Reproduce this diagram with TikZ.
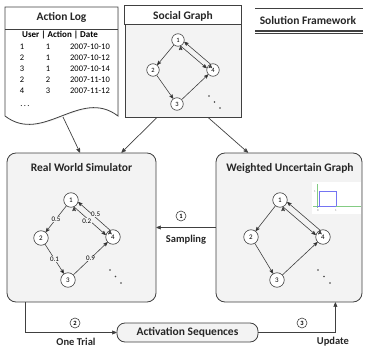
\documentclass[tikz,border=0pt]{standalone}
\usepackage{fontspec}
\setmainfont{Carlito}
\usepackage{array}
\usetikzlibrary{
  automata,
  arrows,
  shadows
}
\definecolor{linegray}{HTML}{404040}
\definecolor{panelgray}{HTML}{F3F3F3}
\definecolor{plotblue}{HTML}{7474F2}
\definecolor{plotgreen}{HTML}{84CC84}
\tikzset{
  x=1pt, y=-1pt,
  >=stealth',
  every state/.style={draw=linegray, line width=0.6pt, fill=white, minimum size=14.5pt, inner sep=0pt, font=\fontsize{7}{7}\selectfont},
  smallstate/.style={minimum size=12.5pt, font=\fontsize{6.5}{6.5}\selectfont},
  link/.style={->, draw=linegray, line width=0.6pt},
  flow/.style={->, draw=linegray, line width=0.7pt},
  softshadow/.style={drop shadow={shadow xshift=1pt, shadow yshift=-1pt, opacity=0.12}},
  panel/.style={draw=linegray, line width=0.8pt, fill=panelgray, rounded corners=9pt, minimum height=149pt},
  heading/.style={font=\fontsize{11.5}{12}\selectfont\bfseries, text=black!85, inner sep=0pt},
  caption/.style={font=\fontsize{10.5}{11}\selectfont\bfseries, text=black!85, inner sep=0pt},
  weight/.style={font=\fontsize{7}{7}\selectfont, fill=panelgray, inner sep=0.6pt},
  stepno/.style={circle, draw=linegray, line width=0.6pt, fill=white, minimum size=10pt, inner sep=0pt, font=\fontsize{6.5}{6.5}\selectfont\bfseries},
  ticklabel/.style={font=\fontsize{3}{3}\selectfont, text=black!50, inner sep=0pt}
}

\begin{document}
\begin{tikzpicture}
  \useasboundingbox (0,0) rectangle (365,348);

  % action log
  \draw[linegray, line width=0.8pt, fill=white, softshadow] (5,7) -- (118,7) -- (118,116)
    .. controls (80,87) and (43,145) .. (5,116) -- cycle;
  \draw[linegray, line width=0.8pt] (5,29) -- (118,29);
  \node[heading] (logtitle) at (61.5,17) {Action Log};
  \node[font=\fontsize{9}{9}\selectfont\bfseries, inner sep=0pt] (loghead) at (60,35) {User | Action | Date};
  \node[font=\fontsize{8.5}{11}\selectfont, inner sep=0pt] (logrows) at (64,69.5) {%
    \setlength{\tabcolsep}{0pt}%
    \begin{tabular}{w{c}{26pt}w{c}{26pt}w{c}{58pt}}
      1 & 1 & 2007-10-10\\
      2 & 1 & 2007-10-12\\
      3 & 1 & 2007-10-14\\
      2 & 2 & 2007-11-10\\
      4 & 3 & 2007-11-12
    \end{tabular}};
  \node[font=\fontsize{8.5}{9}\selectfont, inner sep=0pt] (logmore) at (25,106) {.\,.\,.};
  \coordinate (logfoot) at (63,117);

  % social graph
  \node[draw=linegray, line width=0.8pt, fill=panelgray, minimum width=116pt, minimum height=111pt, softshadow] (social) at (183,61.5) {};
  \draw[linegray, line width=0.8pt, fill=white] (social.north west) rectangle ([yshift=-19pt]social.north east);
  \node[heading] (socialtitle) at (183,16) {Social Graph};
  \node[state, smallstate] (g1) at (178,40) {1};
  \node[state, smallstate] (g2) at (153,70) {2};
  \node[state, smallstate] (g3) at (177,104) {3};
  \node[state, smallstate] (g4) at (213,70) {4};
  \draw[link] (g1) edge (g2);
  \draw[link] (g1.-66) edge (g4.164);
  \draw[link] (g4.114) edge (g1.-16);
  \draw[link] (g2) edge (g3);
  \draw[link] (g3) edge (g4);
  \fill[linegray] (209,96) circle (0.9) (214.5,102) circle (0.9) (220,108) circle (0.9);

  % solution framework
  \node[heading] (frame) at (308,20) {Solution Framework};
  \draw[linegray, line width=0.6pt] (255,8) -- (363,8);
  \draw[linegray, line width=1.6pt] (255,30.8) -- (363,30.8);
  \draw[linegray, line width=0.5pt] (255,33.6) -- (363,33.6);

  % real world simulator
  \node[panel, minimum width=149pt] (sim) at (81.5,227.5) {};
  \node[heading] (simtitle) at (81.5,168) {Real World Simulator};
  \node[state] (r1) at (71,200) {1};
  \node[state] (r2) at (41,238) {2};
  \node[state] (r3) at (68,280) {3};
  \node[state] (r4) at (113,237) {4};
  \draw[link] (r1) edge node[weight]{0.5} (r2);
  \draw[link] (r1.-66) edge node[weight, pos=.4, below]{0.2} (r4.164);
  \draw[link] (r4.114) edge node[weight, pos=.45, above]{0.5} (r1.-16);
  \draw[link] (r2) edge node[weight]{0.1} (r3);
  \draw[link] (r3) edge node[weight]{0.9} (r4);
  \fill[linegray] (110,270) circle (0.9) (115.5,276.5) circle (0.9) (121,283) circle (0.9);

  % weighted uncertain graph
  \node[panel, minimum width=146pt] (wug) at (289,227.5) {};
  \node[heading] (wugtitle) at (290,168) {Weighted Uncertain Graph};
  \fill[white] (312,182) rectangle (361,214);
  \draw[plotgreen, line width=0.6pt] (313,206) -- (361,206);
  \draw[plotgreen, line width=0.6pt] (317,184) -- (317,208);
  \draw[plotblue, line width=0.6pt] (317,206) -- (336,206);
  \draw[plotblue, line width=0.6pt] (319,206) -- (319,191) -- (336,191) -- (336,206);
  \node[ticklabel] (ploty) at (315,192) {1};
  \node[ticklabel] (plotzero) at (318,210.5) {0};
  \node[ticklabel] (plotone) at (336,210.5) {1};
  \node[state] (w1) at (280,200) {1};
  \node[state] (w2) at (251,237) {2};
  \node[state] (w3) at (277,280) {3};
  \node[state] (w4) at (323,237) {4};
  \draw[link] (w1) edge (w2);
  \draw[link] (w1.-66) edge (w4.164);
  \draw[link] (w4.114) edge (w1.-16);
  \draw[link] (w2) edge (w3);
  \draw[link] (w3) edge (w4);
  \fill[linegray] (318,270) circle (0.9) (324,276.5) circle (0.9) (330,283) circle (0.9);

  % activation sequences
  \node[panel, minimum width=141pt, minimum height=19pt, rounded corners=8pt, heading] (act) at (187.5,332.5) {Activation Sequences};

  % flows
  \draw[flow] (logfoot) -- ([xshift=-1.5pt]sim.north);
  \draw[flow] ([xshift=-26pt]social.south) -- ([xshift=40pt]sim.north);
  \draw[flow] ([xshift=25pt]social.south) -- ([xshift=-41pt]wug.north);
  \draw[flow] (wug.west) -- (sim.east);
  \draw[flow] ([xshift=19pt]sim.south west) |- (act.west);
  \draw[flow] (act.east) -| ([xshift=-27pt]wug.south east);

  \node[stepno] (s1) at (181,216) {1};
  \node[caption] (sampling) at (186,240) {Sampling};
  \node[stepno] (s2) at (75,323) {2};
  \node[caption] (trial) at (76,341.5) {One Trial};
  \node[stepno] (s3) at (302,323) {3};
  \node[caption] (update) at (333,342) {Update};
\end{tikzpicture}
\end{document}
